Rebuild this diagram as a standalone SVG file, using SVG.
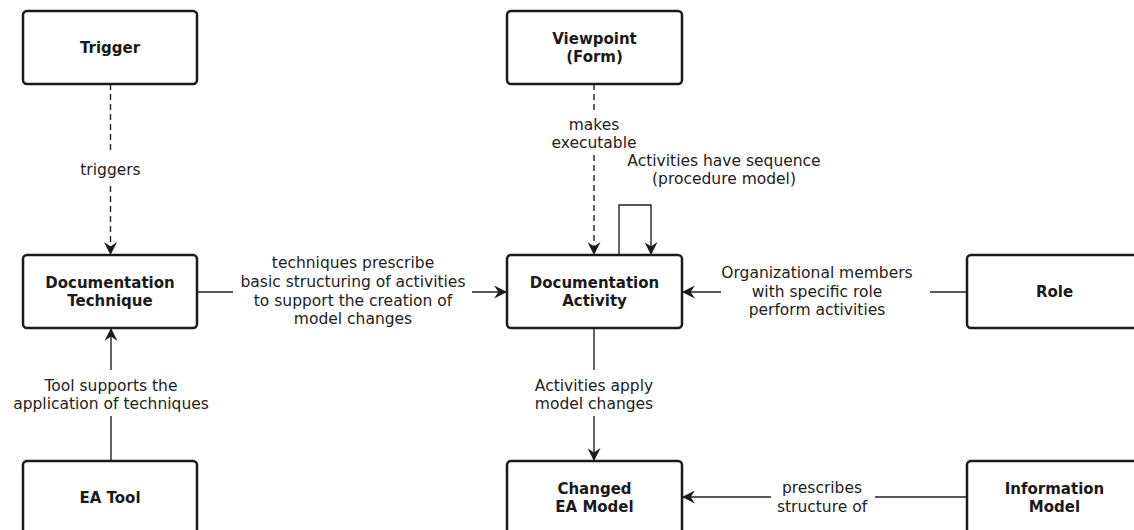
<svg xmlns="http://www.w3.org/2000/svg" width="1134" height="530" viewBox="0 0 1134 530">
<style>
.box{fill:#fff;stroke:#1a1a1a;stroke-width:2.5}
.t{font-family:"DejaVu Sans",Verdana,sans-serif;font-size:15px;font-weight:bold;fill:#1a1a1a;text-anchor:middle}
.l{font-family:"DejaVu Sans",Verdana,sans-serif;font-size:15.5px;fill:#222;text-anchor:middle}
.c{fill:none;stroke:#222;stroke-width:1.4}
.d{stroke-dasharray:6 4}
</style>
<defs>
<marker id="ah" viewBox="0 0 12 12" refX="11" refY="6" markerWidth="13" markerHeight="13" markerUnits="userSpaceOnUse" orient="auto">
<path d="M0,0 L12,6 L0,12 L4,6 Z" fill="#1a1a1a"/>
</marker>
</defs>
<g id="connectors">
<line class="c d" x1="110.5" y1="84" x2="110.5" y2="152"/>
<line class="c d" x1="110.5" y1="186" x2="110.5" y2="254" marker-end="url(#ah)"/>
<text class="l" x="110.5" y="175">triggers</text>

<line class="c d" x1="594" y1="84" x2="594" y2="112"/>
<line class="c d" x1="594" y1="155" x2="594" y2="254" marker-end="url(#ah)"/>
<text class="l" x="594" y="130">makes</text>
<text class="l" x="594" y="148">executable</text>

<polyline class="c" points="619,255 619,205 651,205 651,254" marker-end="url(#ah)"/>
<text class="l" x="724" y="166">Activities have sequence</text>
<text class="l" x="724" y="184">(procedure model)</text>

<line class="c" x1="197" y1="292" x2="233" y2="292"/>
<line class="c" x1="472" y1="292" x2="506" y2="292" marker-end="url(#ah)"/>
<text class="l" x="353" y="268">techniques prescribe</text>
<text class="l" x="353" y="287">basic structuring of activities</text>
<text class="l" x="353" y="306">to support the creation of</text>
<text class="l" x="353" y="324">model changes</text>

<line class="c" x1="967" y1="292" x2="930" y2="292"/>
<line class="c" x1="721" y1="292" x2="683" y2="292" marker-end="url(#ah)"/>
<text class="l" x="817" y="278">Organizational members</text>
<text class="l" x="817" y="297">with specific role</text>
<text class="l" x="817" y="315">perform activities</text>

<line class="c" x1="594" y1="328" x2="594" y2="370"/>
<line class="c" x1="594" y1="416" x2="594" y2="460" marker-end="url(#ah)"/>
<text class="l" x="594" y="391">Activities apply</text>
<text class="l" x="594" y="409">model changes</text>

<line class="c" x1="111" y1="461" x2="111" y2="416"/>
<line class="c" x1="111" y1="370" x2="111" y2="329" marker-end="url(#ah)"/>
<text class="l" x="111" y="391">Tool supports the</text>
<text class="l" x="111" y="409">application of techniques</text>

<line class="c" x1="967" y1="497" x2="875" y2="497"/>
<line class="c" x1="771" y1="497" x2="683" y2="497" marker-end="url(#ah)"/>
<text class="l" x="822" y="493">prescribes</text>
<text class="l" x="822" y="512">structure of</text>
</g>
<g id="trigger"><rect class="box" x="23" y="11" width="174" height="73" rx="4"/><text class="t" x="110" y="53">Trigger</text></g>
<g id="viewpoint"><rect class="box" x="507" y="11" width="175" height="73" rx="4"/><text class="t" x="594.5" y="44">Viewpoint</text><text class="t" x="594.5" y="62">(Form)</text></g>
<g id="doc-technique"><rect class="box" x="23" y="255" width="174" height="73" rx="4"/><text class="t" x="110" y="288">Documentation</text><text class="t" x="110" y="306">Technique</text></g>
<g id="doc-activity"><rect class="box" x="507" y="255" width="175" height="73" rx="4"/><text class="t" x="594.5" y="288">Documentation</text><text class="t" x="594.5" y="306">Activity</text></g>
<g id="role"><rect class="box" x="967" y="255" width="175" height="73" rx="4"/><text class="t" x="1054.5" y="297">Role</text></g>
<g id="ea-tool"><rect class="box" x="23" y="461" width="174" height="73" rx="4"/><text class="t" x="110" y="503">EA Tool</text></g>
<g id="changed-ea-model"><rect class="box" x="507" y="461" width="175" height="73" rx="4"/><text class="t" x="594.5" y="494">Changed</text><text class="t" x="594.5" y="512">EA Model</text></g>
<g id="information-model"><rect class="box" x="967" y="461" width="175" height="73" rx="4"/><text class="t" x="1054.5" y="494">Information</text><text class="t" x="1054.5" y="512">Model</text></g>
</svg>
